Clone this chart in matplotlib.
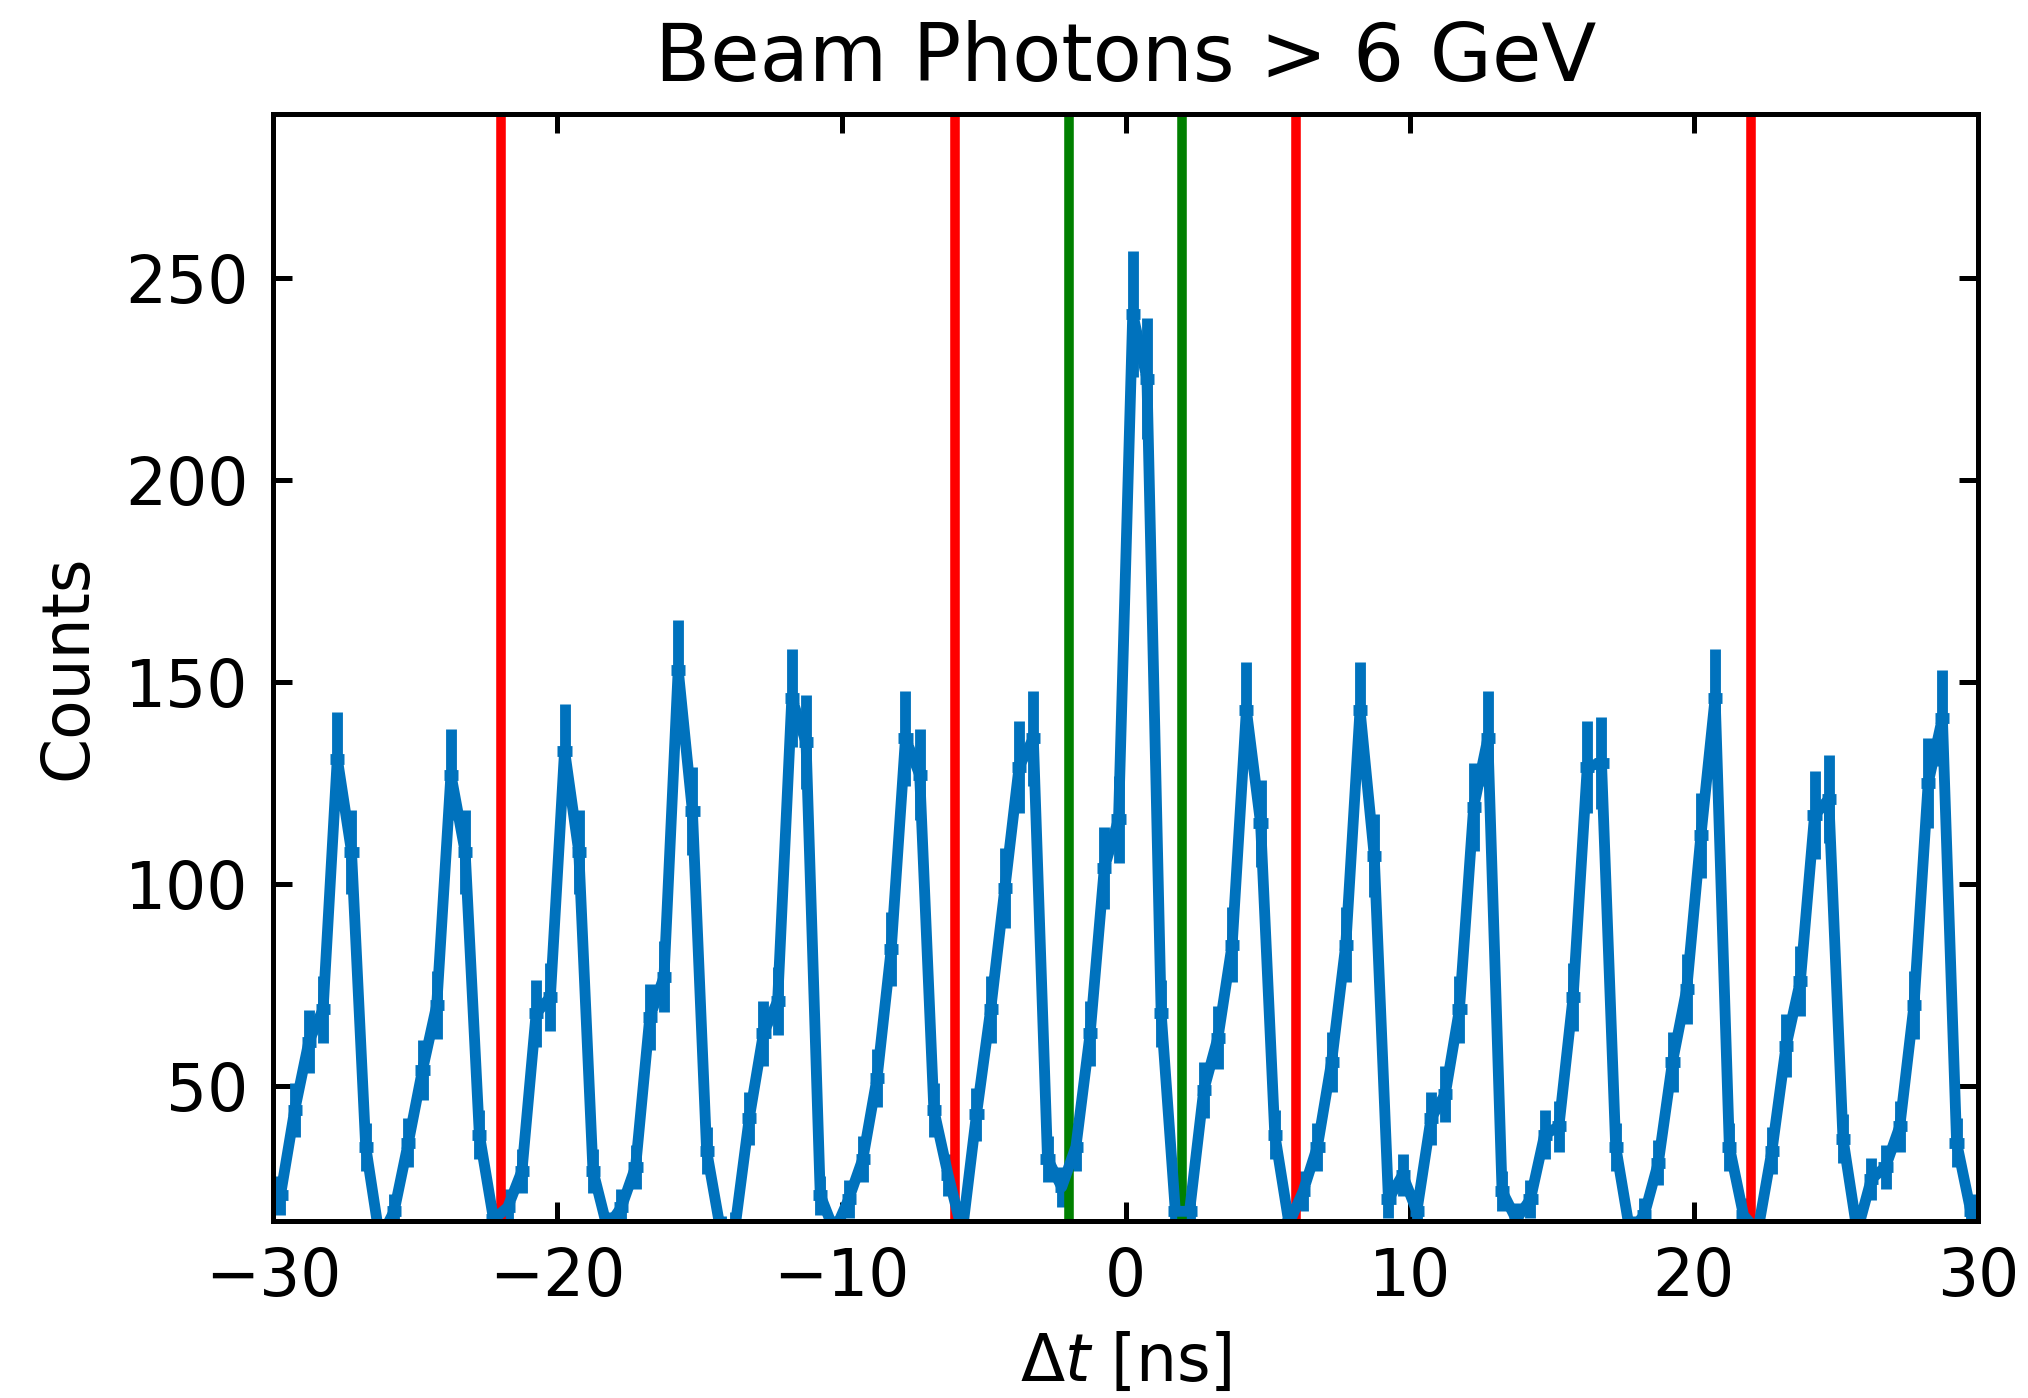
import numpy as np
import matplotlib.pyplot as plt

# bin centres of the delta-t histogram, 0.5 ns bins from -30 to 30
bin_edges = np.linspace(-30, 30, 121)
counts = [
    23, 44, 61, 69, 131, 108, 35, 12,
    19, 36, 54, 70, 127, 108, 38, 17,
    20, 29, 68, 72, 133, 108, 29, 15,
    20, 30, 67, 77, 153, 118, 34, 14,
    15, 42, 63, 71, 146, 135, 23, 14,
    22, 32, 52, 84, 136, 127, 44, 28,
    14, 43, 69, 99, 129, 136, 32, 25,
    35, 63, 104, 116, 241, 225, 68, 19,
    19, 49, 62, 85, 143, 115, 38, 16,
    24, 35, 56, 85, 143, 107, 22, 28,
    19, 42, 48, 69, 119, 136, 24, 17,
    22, 38, 40, 72, 129, 130, 35, 14,
    18, 31, 56, 74, 112, 146, 35, 18,
    14, 34, 60, 76, 117, 121, 37, 14,
    27, 30, 40, 70, 125, 141, 36, 19,
]
signal_cut = [-2, 2]
sideband_cut = [-22, -6, 6, 22]

centres = 0.5 * (bin_edges[1:] + bin_edges[:-1])
half_width = 0.5 * (bin_edges[1] - bin_edges[0])
counts = np.array(counts, dtype=float)

plt.rcParams["font.family"] = "DejaVu Sans"
fig = plt.figure(figsize=(2028 / 300, 1398 / 300), dpi=300)
ax = fig.add_axes([0.1348, 0.1266, 0.9753 - 0.1348, 0.9185 - 0.1266])

ax.errorbar(centres, counts, yerr=np.sqrt(counts), xerr=half_width,
            color="#0072bd", lw=2.6, elinewidth=2.6, capsize=0)
for x in sideband_cut:
    ax.axvline(x, color="red", lw=2.3)
for x in signal_cut:
    ax.axvline(x, color="green", lw=2.3)

ax.set_xlim(-30, 30)
ax.set_ylim(16.6, 290.5)
ax.set_xticks(np.arange(-30, 31, 10))
ax.set_yticks(np.arange(50, 251, 50))
ax.tick_params(direction="in", top=True, right=True, length=4.5, width=1.2,
               labelsize=15.5, pad=6)
for s in ax.spines.values():
    s.set_linewidth(1.2)

ax.set_xlabel(r"$\Delta t$ [ns]", fontsize=15.5, labelpad=5)
ax.set_ylabel("Counts", fontsize=15.5, labelpad=6)
ax.set_title("Beam Photons > 6 GeV", fontsize=19.3, pad=8)

fig.savefig("out.png", dpi=300)
